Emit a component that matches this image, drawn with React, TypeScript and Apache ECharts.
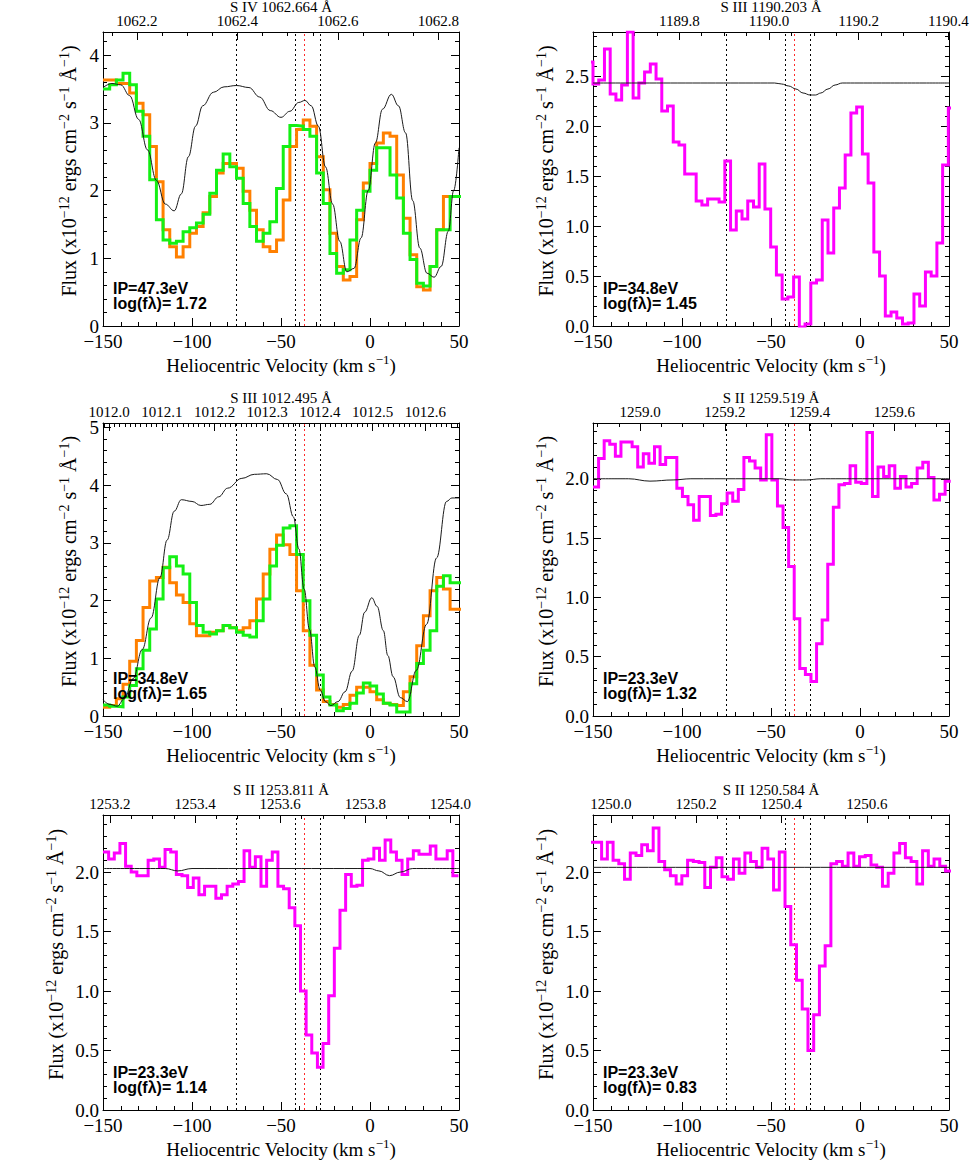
import React, { useEffect, useRef } from 'react';
import * as echarts from 'echarts';

// ---------------- constants ----------------
const C_KMS = 299792.458;
const VEL_MIN = -150;
const VEL_MAX = 50;
const VEL_STEP = 50;
const COMPONENT_VELOCITIES = [-75, -42, -28];
const RED_VELOCITY = -37;

const ORANGE = '#ff8000';
const GREEN = '#14f014';
const MAGENTA = '#ff00ff';
const MODEL_COLOR = '#1a1a1a';

// ---------------- Panel 1: S IV 1062.664 ----------------
const P1_TITLE = 'S IV 1062.664 Å';
const P1_LAMBDA = 1062.664;
const P1_IP = '47.3';
const P1_LOGFL = '1.72';
const P1_YMAX = 4.34;
const P1_BIN_START = -150;
const P1_BIN_WIDTH = 3.75;
const P1_ORANGE = [3.63, 3.63, 3.58, 3.58, 3.44, 3.29, 3.12, 2.65, 2.13, 1.42, 1.17, 1.02, 1.17, 1.37, 1.47, 1.67, 1.91, 2.26, 2.40, 2.40, 2.33, 1.99, 1.71, 1.42, 1.17, 1.10, 1.27, 1.86, 2.65, 2.90, 3.04, 2.95, 2.50, 2.01, 1.37, 0.88, 0.68, 0.73, 1.57, 2.11, 2.40, 2.70, 2.85, 2.80, 2.23, 1.59, 1.05, 0.58, 0.53, 0.88, 1.42, 1.91, 1.91, 1.91];
const P1_GREEN = [3.50, 3.56, 3.63, 3.73, 3.56, 3.17, 2.80, 2.16, 1.57, 1.27, 1.22, 1.25, 1.39, 1.45, 1.52, 1.65, 1.96, 2.30, 2.54, 2.35, 2.18, 1.81, 1.47, 1.25, 1.37, 1.54, 2.03, 2.65, 2.96, 2.95, 2.90, 2.80, 2.26, 1.81, 1.07, 0.78, 0.83, 1.27, 1.71, 1.99, 2.30, 2.63, 2.63, 2.23, 1.89, 1.37, 0.98, 0.63, 0.59, 0.88, 1.42, 1.42, 1.91, 1.91];
const P1_MODEL_V = [-150, -145, -140, -135, -130, -125, -120, -115, -110, -106, -102, -98, -94, -88, -82, -75, -68, -62, -56, -50, -45, -40, -36.5, -33, -29, -25, -21, -17, -13, -9, -5, -1, 3, 7, 12, 16, 20, 24, 28, 32, 36, 40, 44, 47, 50];
const P1_MODEL_F = [3.52, 3.58, 3.56, 3.40, 3.05, 2.60, 2.15, 1.80, 1.70, 1.95, 2.50, 2.95, 3.25, 3.45, 3.53, 3.55, 3.52, 3.38, 3.18, 3.08, 3.17, 3.30, 3.33, 3.25, 2.95, 2.35, 1.80, 1.25, 0.80, 0.85, 1.30, 2.00, 2.70, 3.20, 3.42, 3.25, 2.85, 1.85, 1.15, 0.78, 0.72, 0.88, 1.40, 2.00, 2.63];

// ---------------- Panel 2: S III 1190.203 ----------------
const P2_TITLE = 'S III 1190.203 Å';
const P2_LAMBDA = 1190.203;
const P2_IP = '34.8';
const P2_LOGFL = '1.45';
const P2_YMAX = 2.94;
const P2_BIN_START = -153.22;
const P2_BIN_WIDTH = 3.22;
const P2_MAGENTA = [2.64, 2.42, 2.46, 2.77, 2.32, 2.26, 2.41, 2.94, 2.28, 2.43, 2.54, 2.62, 2.47, 2.15, 2.20, 1.84, 1.81, 1.52, 1.52, 1.25, 1.21, 1.27, 1.27, 1.24, 1.65, 0.96, 1.15, 1.07, 1.25, 1.19, 1.62, 1.17, 0.79, 0.51, 0.27, 0.29, 0.49, -0.01, 0.02, 0.43, 0.46, 1.06, 0.73, 1.18, 1.38, 1.71, 2.13, 2.19, 1.72, 1.43, 0.74, 0.50, 0.10, 0.14, 0.08, 0.02, 0.03, 0.32, 0.20, 0.54, 0.50, 0.83, 1.61, 2.18];
const P2_MODEL_V = [-150, -48, -44, -40, -36, -32, -28, -25, -22, -18, -14, -10, 50];
const P2_MODEL_F = [2.43, 2.43, 2.42, 2.40, 2.37, 2.33, 2.31, 2.31, 2.33, 2.37, 2.41, 2.43, 2.43];

// ---------------- Panel 3: S III 1012.495 ----------------
const P3_TITLE = 'S III 1012.495 Å';
const P3_LAMBDA = 1012.495;
const P3_IP = '34.8';
const P3_LOGFL = '1.65';
const P3_YMAX = 5.08;
const P3_BIN_START = -150;
const P3_BIN_WIDTH = 3.75;
const P3_ORANGE = [0.15, 0.18, 0.30, 0.55, 0.95, 1.31, 1.88, 2.34, 2.40, 2.58, 2.31, 2.10, 1.97, 1.60, 1.39, 1.39, 1.45, 1.48, 1.57, 1.53, 1.48, 1.53, 1.65, 2.03, 2.46, 2.89, 3.14, 2.97, 2.80, 2.17, 1.48, 0.88, 0.45, 0.25, 0.20, 0.15, 0.20, 0.36, 0.50, 0.50, 0.42, 0.28, 0.22, 0.20, 0.18, 0.42, 0.68, 1.22, 1.74, 2.17, 2.40, 2.20, 1.85, 1.85];
const P3_GREEN = [0.19, 0.17, 0.16, 0.33, 0.53, 0.82, 1.14, 1.51, 2.03, 2.57, 2.76, 2.60, 2.46, 1.97, 1.57, 1.45, 1.42, 1.48, 1.57, 1.53, 1.45, 1.40, 1.37, 1.65, 2.03, 2.60, 2.96, 3.26, 3.30, 2.80, 2.00, 1.40, 0.71, 0.33, 0.19, 0.09, 0.13, 0.22, 0.40, 0.57, 0.52, 0.38, 0.22, 0.19, 0.07, 0.07, 0.56, 0.91, 1.14, 1.48, 2.25, 2.43, 2.31, 2.31];
const P3_MODEL_V = [-150, -146, -142, -138, -133, -128, -123, -118, -114, -110, -106, -100, -95, -90, -85, -80, -72, -65, -58, -52, -47, -43, -40, -37, -34, -31, -28, -25, -22, -18, -14, -10, -6, -3, 1, 4, 7.5, 10, 13, 17, 21, 26, 31.8, 37.4, 43, 46, 50];
const P3_MODEL_F = [0.28, 0.20, 0.17, 0.30, 0.65, 1.15, 1.70, 2.40, 3.05, 3.55, 3.75, 3.72, 3.65, 3.67, 3.80, 3.95, 4.12, 4.19, 4.20, 4.10, 3.85, 3.45, 2.90, 2.20, 1.50, 0.85, 0.45, 0.25, 0.18, 0.25, 0.42, 0.78, 1.40, 1.80, 2.05, 1.90, 1.48, 1.05, 0.68, 0.32, 0.25, 0.79, 1.59, 2.74, 3.72, 3.78, 3.78];

// ---------------- Panel 4: S II 1259.519 ----------------
const P4_TITLE = 'S II 1259.519 Å';
const P4_LAMBDA = 1259.519;
const P4_IP = '23.3';
const P4_LOGFL = '1.32';
const P4_YMAX = 2.47;
const P4_BIN_START = -150;
const P4_BIN_WIDTH = 3.14;
const P4_MAGENTA = [1.93, 2.17, 2.32, 2.29, 2.19, 2.31, 2.31, 2.27, 2.10, 2.21, 2.13, 2.27, 2.12, 2.18, 2.18, 1.92, 1.85, 1.78, 1.65, 1.85, 1.85, 1.69, 1.70, 1.79, 1.88, 1.81, 1.91, 2.18, 2.15, 2.09, 1.99, 2.37, 1.99, 1.77, 1.59, 1.26, 0.82, 0.40, 0.35, 0.29, 0.61, 0.81, 1.28, 1.76, 1.95, 1.96, 2.11, 1.97, 1.96, 2.39, 1.85, 2.10, 2.02, 2.11, 1.92, 2.02, 1.93, 1.96, 2.09, 2.14, 2.01, 1.82, 1.87, 1.98];
const P4_MODEL_V = [-150, -130, -118, -105, -95, -45, -38, -30, -22, 50];
const P4_MODEL_F = [2.00, 2.00, 1.98, 1.99, 2.00, 2.00, 1.99, 1.99, 2.00, 2.00];

// ---------------- Panel 5: S II 1253.811 ----------------
const P5_TITLE = 'S II 1253.811 Å';
const P5_LAMBDA = 1253.811;
const P5_IP = '23.3';
const P5_LOGFL = '1.14';
const P5_YMAX = 2.48;
const P5_BIN_START = -150;
const P5_BIN_WIDTH = 3.17;
const P5_MAGENTA = [2.17, 2.11, 2.16, 2.24, 2.05, 2.00, 1.97, 1.97, 2.10, 2.11, 2.04, 2.19, 2.17, 1.98, 1.97, 1.87, 1.95, 1.81, 1.88, 1.88, 1.78, 1.81, 1.88, 1.90, 1.92, 2.18, 2.04, 2.13, 1.88, 2.10, 2.17, 1.88, 1.86, 1.70, 1.55, 1.00, 0.63, 0.48, 0.36, 0.56, 0.96, 1.36, 1.68, 1.98, 1.88, 1.89, 2.10, 2.11, 2.20, 2.10, 2.27, 2.17, 2.10, 1.98, 2.11, 2.18, 2.15, 2.15, 2.22, 2.11, 2.11, 2.18, 1.97];
const P5_MODEL_V = [-150, -115, -108, -100, 0, 5, 11, 17, 24, 50];
const P5_MODEL_F = [2.03, 2.03, 2.01, 2.03, 2.03, 2.01, 1.97, 2.00, 2.03, 2.03];

// ---------------- Panel 6: S II 1250.584 ----------------
const P6_TITLE = 'S II 1250.584 Å';
const P6_LAMBDA = 1250.584;
const P6_IP = '23.3';
const P6_LOGFL = '0.83';
const P6_YMAX = 2.48;
const P6_BIN_START = -151.6;
const P6_BIN_WIDTH = 3.22;
const P6_MAGENTA = [2.25, 2.25, 2.11, 2.25, 2.10, 2.07, 1.94, 2.16, 2.14, 2.23, 2.18, 2.37, 2.09, 2.02, 1.97, 1.90, 1.97, 2.10, 2.09, 2.08, 1.87, 2.04, 2.12, 1.96, 1.94, 2.11, 1.99, 2.16, 2.09, 2.04, 2.20, 2.11, 1.85, 2.17, 1.71, 1.39, 1.09, 0.85, 0.50, 0.80, 1.21, 1.38, 2.07, 2.09, 2.05, 2.16, 2.05, 2.13, 2.14, 2.06, 2.04, 1.88, 1.99, 2.16, 2.24, 2.12, 2.09, 1.90, 2.18, 2.05, 2.11, 2.05, 2.01];
const P6_MODEL_V = [-150, 50];
const P6_MODEL_F = [2.04, 2.04];

// ---------------- layout ----------------
const FONT_SERIF = '"Liberation Serif", "Times New Roman", serif';
const FONT_SANS = '"Liberation Sans", Arial, sans-serif';
const PANEL_W = 356;
const COL_X = [103, 593];
const ROW_Y = [32, 423, 815];
const ROW_H = [294, 293, 295];

type Hist = { values: number[]; start: number; width: number; color: string };
type Panel = {
  title: string; lambda0: number; ip: string; logfl: string;
  yMax: number; yStep: number; yDec: number; topSplit: number; topMinor: number;
  hists: Hist[]; modelV: number[]; modelF: number[];
};

const PANELS: Panel[] = [
  { title: P1_TITLE, lambda0: P1_LAMBDA, ip: P1_IP, logfl: P1_LOGFL, yMax: P1_YMAX, yStep: 1, yDec: 0, topSplit: 4, topMinor: 4,
    hists: [{ values: P1_ORANGE, start: P1_BIN_START, width: P1_BIN_WIDTH, color: ORANGE }, { values: P1_GREEN, start: P1_BIN_START, width: P1_BIN_WIDTH, color: GREEN }],
    modelV: P1_MODEL_V, modelF: P1_MODEL_F },
  { title: P2_TITLE, lambda0: P2_LAMBDA, ip: P2_IP, logfl: P2_LOGFL, yMax: P2_YMAX, yStep: 0.5, yDec: 1, topSplit: 4, topMinor: 4,
    hists: [{ values: P2_MAGENTA, start: P2_BIN_START, width: P2_BIN_WIDTH, color: MAGENTA }],
    modelV: P2_MODEL_V, modelF: P2_MODEL_F },
  { title: P3_TITLE, lambda0: P3_LAMBDA, ip: P3_IP, logfl: P3_LOGFL, yMax: P3_YMAX, yStep: 1, yDec: 0, topSplit: 7, topMinor: 10,
    hists: [{ values: P3_ORANGE, start: P3_BIN_START, width: P3_BIN_WIDTH, color: ORANGE }, { values: P3_GREEN, start: P3_BIN_START, width: P3_BIN_WIDTH, color: GREEN }],
    modelV: P3_MODEL_V, modelF: P3_MODEL_F },
  { title: P4_TITLE, lambda0: P4_LAMBDA, ip: P4_IP, logfl: P4_LOGFL, yMax: P4_YMAX, yStep: 0.5, yDec: 1, topSplit: 4, topMinor: 4,
    hists: [{ values: P4_MAGENTA, start: P4_BIN_START, width: P4_BIN_WIDTH, color: MAGENTA }],
    modelV: P4_MODEL_V, modelF: P4_MODEL_F },
  { title: P5_TITLE, lambda0: P5_LAMBDA, ip: P5_IP, logfl: P5_LOGFL, yMax: P5_YMAX, yStep: 0.5, yDec: 1, topSplit: 4, topMinor: 4,
    hists: [{ values: P5_MAGENTA, start: P5_BIN_START, width: P5_BIN_WIDTH, color: MAGENTA }],
    modelV: P5_MODEL_V, modelF: P5_MODEL_F },
  { title: P6_TITLE, lambda0: P6_LAMBDA, ip: P6_IP, logfl: P6_LOGFL, yMax: P6_YMAX, yStep: 0.5, yDec: 1, topSplit: 4, topMinor: 4,
    hists: [{ values: P6_MAGENTA, start: P6_BIN_START, width: P6_BIN_WIDTH, color: MAGENTA }],
    modelV: P6_MODEL_V, modelF: P6_MODEL_F },
];

function histData(h: Hist): number[][] {
  const pts = h.values.map((v, i) => [h.start + i * h.width, v]);
  pts.push([h.start + h.values.length * h.width, h.values[h.values.length - 1]]);
  return pts;
}

const minusFmt = (v: number) => (v < 0 ? '\u2212' + Math.abs(v) : String(v));
const LINE = { color: '#000', width: 1 };

function buildOption() {
  const grid: any[] = [];
  const xAxis: any[] = [];
  const yAxis: any[] = [];
  const series: any[] = [];
  const graphic: any[] = [];

  PANELS.forEach((p, i) => {
    const col = i % 2;
    const row = Math.floor(i / 2);
    const left = COL_X[col];
    const top = ROW_Y[row];
    const height = ROW_H[row];
    grid.push({ left, top, width: PANEL_W, height, containLabel: false, outerBoundsMode: 'none', show: false });

    // bottom velocity axis
    xAxis.push({
      type: 'value', gridIndex: i, position: 'bottom', min: VEL_MIN, max: VEL_MAX, interval: VEL_STEP,
      axisLine: { show: true, onZero: false, lineStyle: LINE },
      axisTick: { show: true, inside: true, length: 8, lineStyle: LINE },
      minorTick: { show: true, splitNumber: 5, length: 4, lineStyle: LINE },
      splitLine: { show: false },
      axisLabel: { show: true, margin: 8, lineHeight: 15, fontFamily: FONT_SERIF, fontSize: 19, color: '#000', formatter: minusFmt },
      name: 'Heliocentric Velocity (km s{s|\u22121})', nameLocation: 'middle', nameGap: 27, nameMoveOverlap: false,
      nameTextStyle: { fontFamily: FONT_SERIF, fontSize: 19, color: '#000', lineHeight: 24,
        rich: { s: { fontFamily: FONT_SERIF, fontSize: 13, lineHeight: 13, verticalAlign: 'top', color: '#000' } } },
    });
    // top wavelength axis
    xAxis.push({
      type: 'value', gridIndex: i, position: 'top',
      min: p.lambda0 * (1 + VEL_MIN / C_KMS), max: p.lambda0 * (1 + VEL_MAX / C_KMS), splitNumber: p.topSplit,
      axisLine: { show: true, onZero: false, lineStyle: LINE },
      axisTick: { show: true, inside: true, length: 8, lineStyle: LINE },
      minorTick: { show: true, splitNumber: p.topMinor, length: 4, lineStyle: LINE },
      splitLine: { show: false },
      axisLabel: { show: true, margin: 4, fontFamily: FONT_SERIF, fontSize: 15, color: '#000', showMinLabel: false, showMaxLabel: false,
        formatter: (v: number) => v.toFixed(1) },
    });
    // left flux axis
    yAxis.push({
      type: 'value', gridIndex: i, position: 'left', min: 0, max: p.yMax, interval: p.yStep,
      axisLine: { show: true, onZero: false, lineStyle: LINE },
      axisTick: { show: true, inside: true, length: 8, lineStyle: LINE },
      minorTick: { show: true, splitNumber: 5, length: 4, lineStyle: LINE },
      splitLine: { show: false },
      axisLabel: { show: true, margin: 4, lineHeight: 15, fontFamily: FONT_SERIF, fontSize: 19, color: '#000', showMaxLabel: false,
        formatter: (v: number) => v.toFixed(p.yDec) },
      name: 'Flux (x10{s|\u221212} ergs cm{s|\u22122} s{s|\u22121} \u00C5{s|\u22121})', nameLocation: 'middle',
      nameGap: p.yDec === 0 ? 22 : 35, nameMoveOverlap: false,
      nameTextStyle: { fontFamily: FONT_SERIF, fontSize: 20, color: '#000', lineHeight: 24, padding: [0, 0, 0, 16],
        rich: { s: { fontFamily: FONT_SERIF, fontSize: 14, lineHeight: 13, verticalAlign: 'top', color: '#000' } } },
    });
    // right mirror axis
    yAxis.push({
      type: 'value', gridIndex: i, position: 'right', min: 0, max: p.yMax, interval: p.yStep,
      axisLine: { show: true, onZero: false, lineStyle: LINE },
      axisTick: { show: true, inside: true, length: 8, lineStyle: LINE },
      minorTick: { show: true, splitNumber: 5, length: 4, lineStyle: LINE },
      splitLine: { show: false },
      axisLabel: { show: false },
    });

    const xi = i * 2;
    const yi = i * 2;
    p.hists.forEach((h) => {
      series.push({
        type: 'line', xAxisIndex: xi, yAxisIndex: yi, data: histData(h), step: 'end', showSymbol: false, symbol: 'none',
        clip: true, silent: true, z: 3,
        lineStyle: { color: h.color, width: 3, join: 'miter' }, itemStyle: { color: h.color },
      });
    });
    series.push({
      type: 'line', xAxisIndex: xi, yAxisIndex: yi, data: p.modelV.map((v, k) => [v, p.modelF[k]]),
      smooth: 0.4, smoothMonotone: 'x', showSymbol: false, symbol: 'none', clip: true, silent: true, z: 4,
      lineStyle: { color: MODEL_COLOR, width: 1 }, itemStyle: { color: MODEL_COLOR },
      markLine: {
        silent: true, symbol: ['none', 'none'], label: { show: false }, z: 2,
        lineStyle: { color: '#000', type: [2, 3], width: 1 },
        emphasis: { disabled: true },
        data: [
          ...COMPONENT_VELOCITIES.map((v) => ({ xAxis: v })),
          { xAxis: RED_VELOCITY, lineStyle: { color: '#ff2a2a', type: [2, 3], width: 1 } },
        ],
      },
    });

    graphic.push({
      type: 'text', x: left + PANEL_W / 2, y: top - 25, silent: true,
      style: { text: p.title, fill: '#000', font: `15px ${FONT_SERIF}`, align: 'center', verticalAlign: 'middle' },
    });
    graphic.push({
      type: 'text', x: left + 10, y: top + height - 38, silent: true, z: 10,
      style: { text: `IP=${p.ip}eV`, fill: '#000', font: `bold 16px ${FONT_SANS}`, align: 'left', verticalAlign: 'middle' },
    });
    graphic.push({
      type: 'text', x: left + 10, y: top + height - 23, silent: true, z: 10,
      style: { text: `log(f\u03BB)= ${p.logfl}`, fill: '#000', font: `bold 16px ${FONT_SANS}`, align: 'left', verticalAlign: 'middle' },
    });
  });

  return { animation: false, backgroundColor: '#fff', grid, xAxis, yAxis, series, graphic };
}

export default function App() {
  const ref = useRef<HTMLDivElement>(null);
  useEffect(() => {
    if (!ref.current) return;
    const chart = echarts.init(ref.current, undefined, { renderer: 'svg' });
    chart.setOption(buildOption() as any);
    return () => chart.dispose();
  }, []);
  return (
    <div
      ref={ref}
      style={{ position: 'absolute', left: 0, top: 0, width: 980, height: 1176, background: '#fff' }}
    />
  );
}
